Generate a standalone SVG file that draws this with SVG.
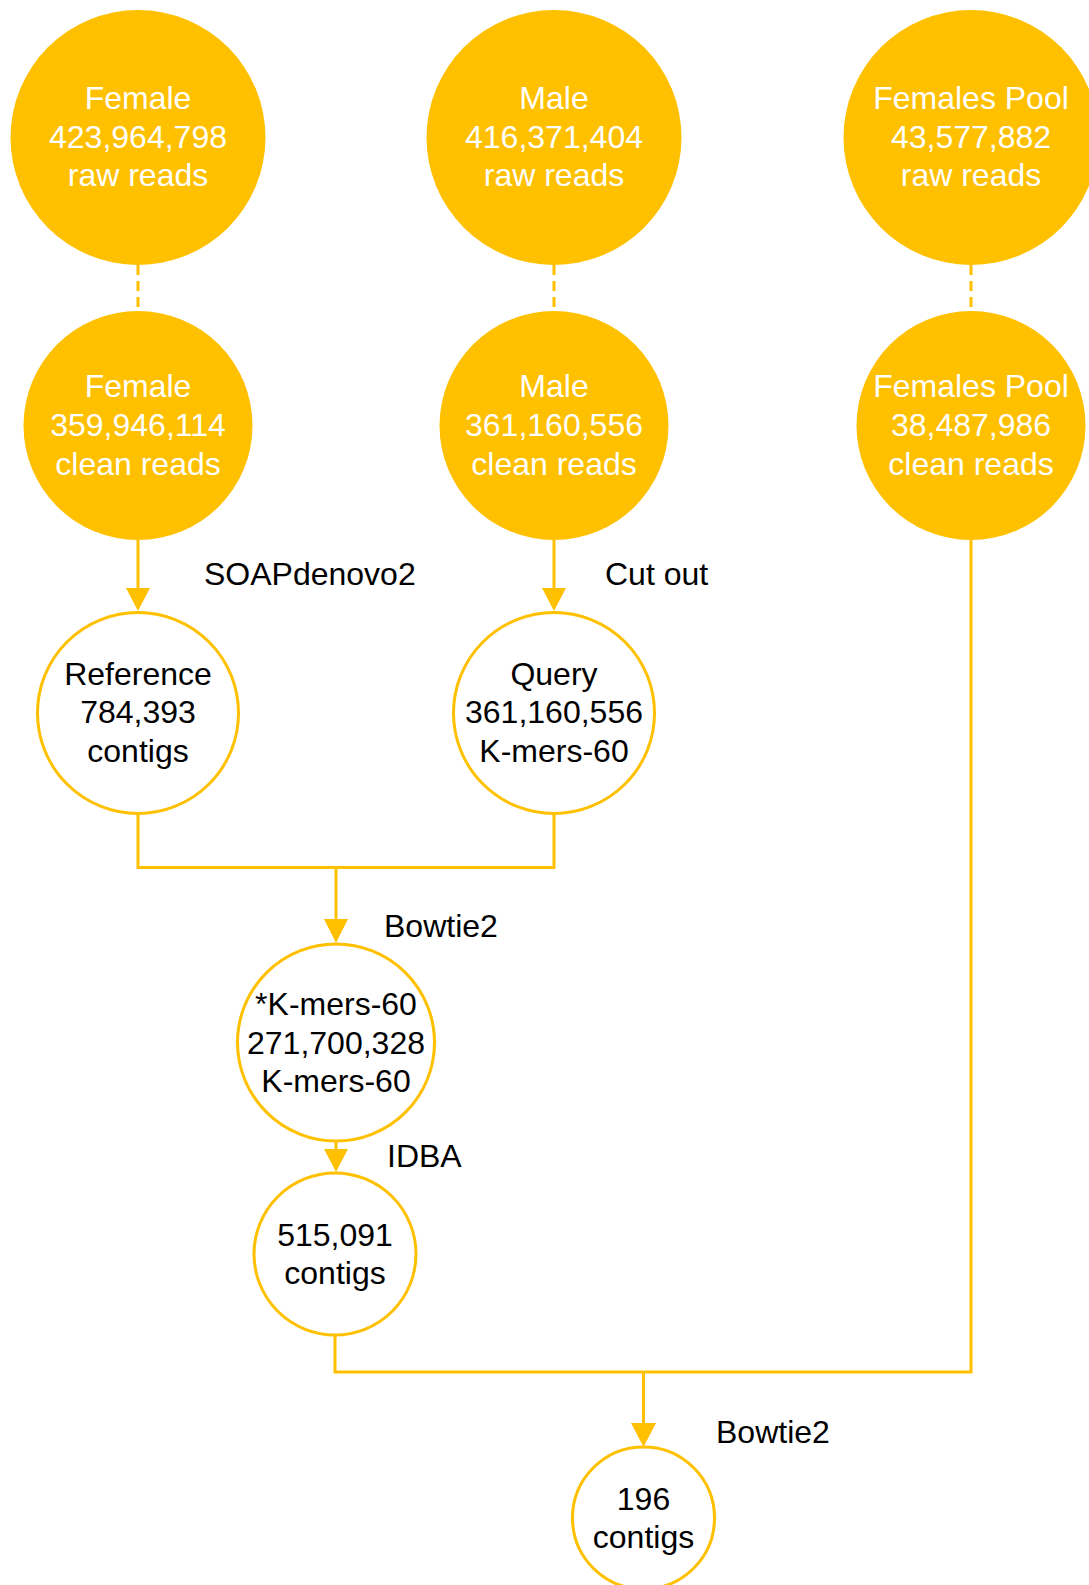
<svg xmlns="http://www.w3.org/2000/svg" width="1089" height="1585" viewBox="0 0 1089 1585">
<defs>
<style>
.filled{fill:#FFC000;stroke:none}
.open{fill:#FFFFFF;stroke:#FFC000;stroke-width:3}
.wt{font-family:"Liberation Sans",Arial,sans-serif;font-size:32px;fill:#FFFFFF;text-anchor:middle}
.bt{font-family:"Liberation Sans",Arial,sans-serif;font-size:32px;fill:#000000;text-anchor:middle}
.lbl{font-family:"Liberation Sans",Arial,sans-serif;font-size:32px;fill:#000000}
.ln{fill:none;stroke:#FFC000;stroke-width:3}
.dash{fill:none;stroke:#FFC000;stroke-width:3;stroke-dasharray:10 6}
</style>
<marker id="arr" viewBox="0 0 24 23" refX="12" refY="23" markerWidth="24" markerHeight="23" markerUnits="userSpaceOnUse" orient="auto-start-reverse">
<path d="M0,0 L24,0 L12,23 Z" fill="#FFC000"/>
</marker>
<marker id="arrd" viewBox="0 0 24 24" refX="12" refY="12" markerWidth="24" markerHeight="24" markerUnits="userSpaceOnUse" orient="0">
<path d="M0,0 L24,0 L12,24 Z" fill="#FFC000"/>
</marker>
</defs>
<rect width="1089" height="1585" fill="#FFFFFF"/>
<g id="connectors">
<line class="dash" x1="138" y1="265" x2="138" y2="311"/>
<line class="dash" x1="554" y1="265" x2="554" y2="311"/>
<line class="dash" x1="971" y1="265" x2="971" y2="311"/>
<line class="ln" x1="138" y1="540" x2="138" y2="590"/>
<path d="M126,588 L150,588 L138,611 Z" fill="#FFC000"/>
<line class="ln" x1="554" y1="540" x2="554" y2="590"/>
<path d="M542,588 L566,588 L554,611 Z" fill="#FFC000"/>
<path class="ln" d="M138,814 V867.5 H554 V814"/>
<line class="ln" x1="336" y1="867.5" x2="336" y2="921"/>
<path d="M324,919 L348,919 L336,943 Z" fill="#FFC000"/>
<line class="ln" x1="336" y1="1141" x2="336" y2="1152"/>
<path d="M324,1149 L348,1149 L336,1172 Z" fill="#FFC000"/>
<path class="ln" d="M335,1335 V1372 H971 V540"/>
<line class="ln" x1="643.5" y1="1372" x2="643.5" y2="1425"/>
<path d="M631,1423 L656,1423 L643.5,1447 Z" fill="#FFC000"/>
</g>
<g id="female-raw">
<circle class="filled" cx="138" cy="137.5" r="127.5"/>
<text class="wt" x="138" y="109">Female</text>
<text class="wt" x="138" y="147.5">423,964,798</text>
<text class="wt" x="138" y="186">raw reads</text>
</g>
<g id="male-raw">
<circle class="filled" cx="554" cy="137.5" r="127.5"/>
<text class="wt" x="554" y="109">Male</text>
<text class="wt" x="554" y="147.5">416,371,404</text>
<text class="wt" x="554" y="186">raw reads</text>
</g>
<g id="pool-raw">
<circle class="filled" cx="971" cy="137.5" r="127.5"/>
<text class="wt" x="971" y="109">Females Pool</text>
<text class="wt" x="971" y="147.5">43,577,882</text>
<text class="wt" x="971" y="186">raw reads</text>
</g>
<g id="female-clean">
<circle class="filled" cx="138" cy="425.5" r="114.5"/>
<text class="wt" x="138" y="397">Female</text>
<text class="wt" x="138" y="436">359,946,114</text>
<text class="wt" x="138" y="474.5">clean reads</text>
</g>
<g id="male-clean">
<circle class="filled" cx="554" cy="425.5" r="114.5"/>
<text class="wt" x="554" y="397">Male</text>
<text class="wt" x="554" y="436">361,160,556</text>
<text class="wt" x="554" y="474.5">clean reads</text>
</g>
<g id="pool-clean">
<circle class="filled" cx="971" cy="425.5" r="114.5"/>
<text class="wt" x="971" y="397">Females Pool</text>
<text class="wt" x="971" y="436">38,487,986</text>
<text class="wt" x="971" y="474.5">clean reads</text>
</g>
<g id="reference">
<circle class="open" cx="138" cy="713" r="100.5"/>
<text class="bt" x="138" y="684.5">Reference</text>
<text class="bt" x="138" y="723">784,393</text>
<text class="bt" x="138" y="761.5">contigs</text>
</g>
<g id="query">
<circle class="open" cx="554" cy="713" r="100.5"/>
<text class="bt" x="554" y="684.5">Query</text>
<text class="bt" x="554" y="723">361,160,556</text>
<text class="bt" x="554" y="761.5">K-mers-60</text>
</g>
<g id="kmers">
<circle class="open" cx="336" cy="1042.5" r="98.5"/>
<text class="bt" x="336" y="1015">*K-mers-60</text>
<text class="bt" x="336" y="1053.5">271,700,328</text>
<text class="bt" x="336" y="1092">K-mers-60</text>
</g>
<g id="contigs515">
<circle class="open" cx="335" cy="1254" r="81"/>
<text class="bt" x="335" y="1246">515,091</text>
<text class="bt" x="335" y="1284">contigs</text>
</g>
<g id="contigs196">
<circle class="open" cx="643.5" cy="1518" r="71"/>
<text class="bt" x="643.5" y="1509.5">196</text>
<text class="bt" x="643.5" y="1548">contigs</text>
</g>
<g id="labels">
<text class="lbl" x="204" y="585">SOAPdenovo2</text>
<text class="lbl" x="605" y="585">Cut out</text>
<text class="lbl" x="384" y="937">Bowtie2</text>
<text class="lbl" x="387" y="1167">IDBA</text>
<text class="lbl" x="716" y="1443">Bowtie2</text>
</g>
</svg>
